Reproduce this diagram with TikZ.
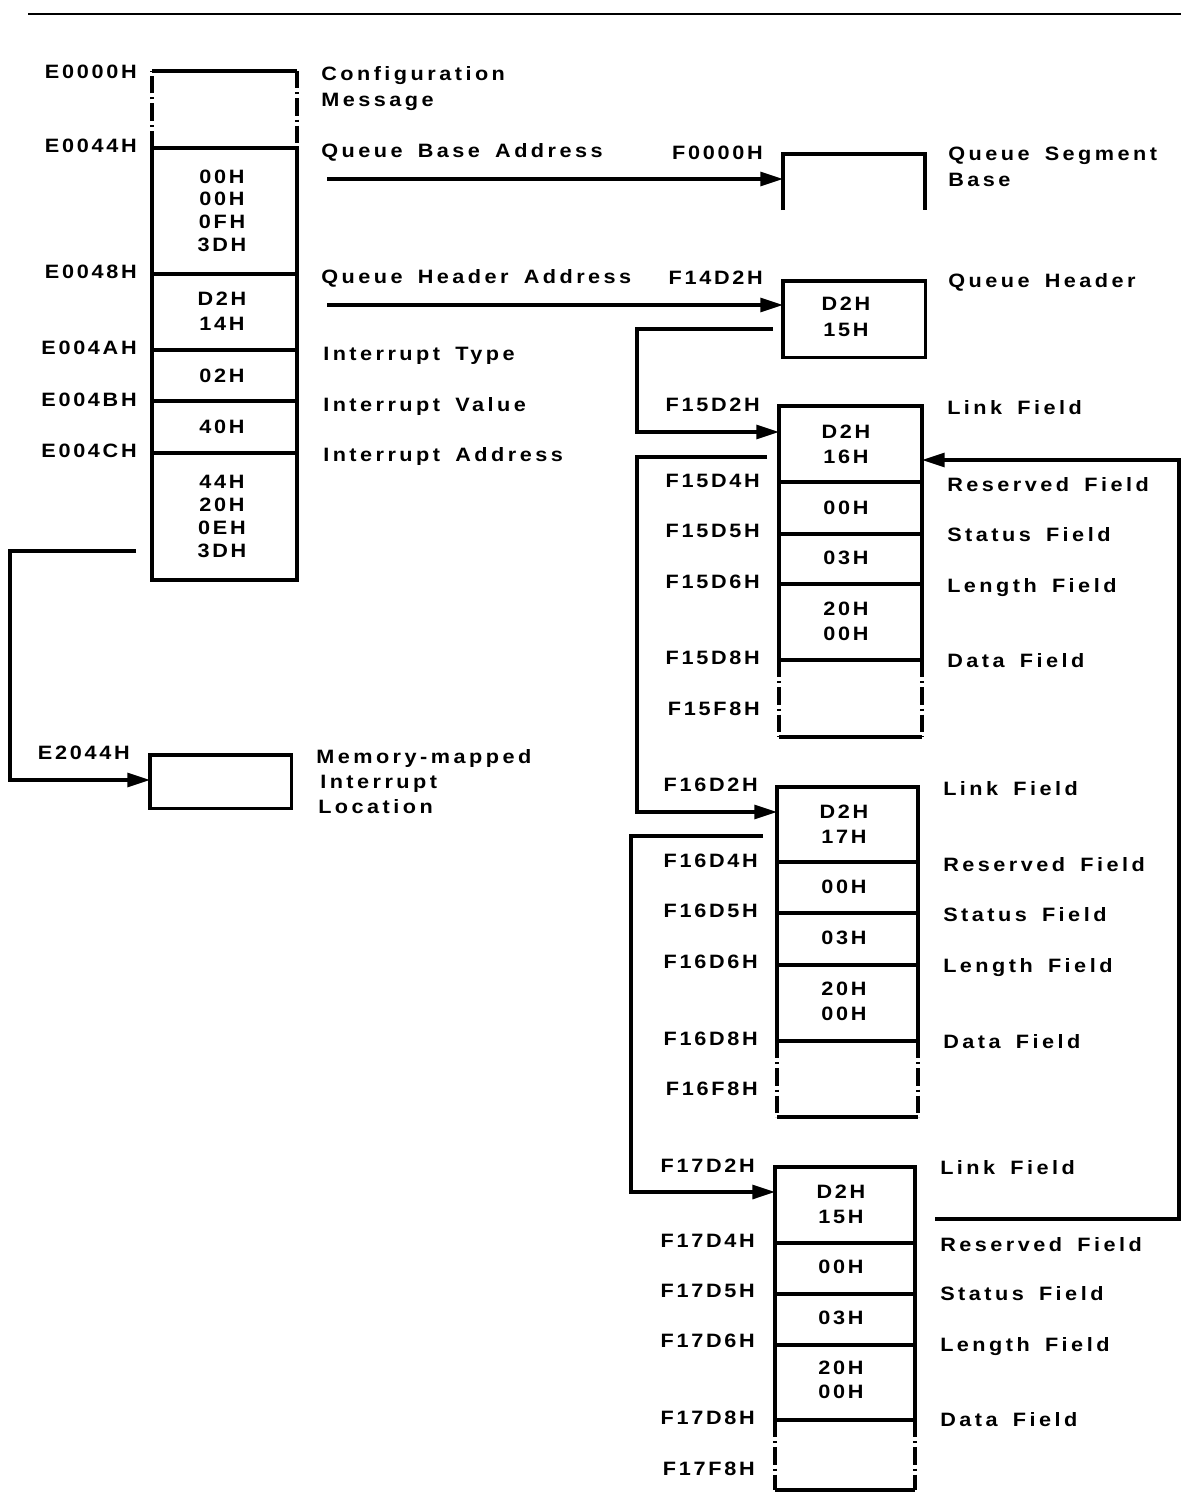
\documentclass[tikz,border=0pt]{standalone}
\usepackage{fontspec}
\setmainfont{Liberation Sans}
\newfontfamily\afont{Liberation Sans}[LetterSpace=14,FakeStretch=1.12]
\newfontfamily\bfont{Liberation Sans}[LetterSpace=18,WordSpace=1.6,FakeStretch=1.12]
\usetikzlibrary{arrows.meta}
\tikzset{
  lbl/.style={inner sep=0pt, text height=10.4pt, text depth=0pt, font=\afont\bfseries\fontsize{14.5}{17}\selectfont},
  lw/.style={lbl, anchor=west, font=\bfont\bfseries\fontsize{14.5}{17}\selectfont},
  le/.style={lbl, anchor=east},
  val/.style={lbl},
  thk/.style={line width=2.3pt},
  dsh/.style={line width=2.3pt, dash pattern=on 13pt off 3pt on 1.5pt off 3pt},
  conn/.style={line width=2.3pt, -{Triangle[length=17pt,width=10.5pt]}},
  cell/.style={inner sep=0pt, draw=none, anchor=north west}
}
\newcommand\fblk[8]{%
  \draw[thk] (#1,#7) -- (#1,#3) -- (#2,#3) -- (#2,#7);
  \foreach \yy in {#4,#5,#6,#7} \draw[thk] (#1,\yy) -- (#2,\yy);
  \draw[dsh] (#1,#7) -- (#1,#8);
  \draw[dsh] (#2,#7) -- (#2,#8);
  \draw[thk] (#1,#8) -- (#2,#8);
}
\begin{document}
\begin{tikzpicture}[x=0.75pt,y=-0.75pt]
\useasboundingbox (0,0) rectangle (1181,1492);
% top rule
\draw[line width=1.8pt] (28,14) -- (1181,14);

% ---------- left block ----------
\draw[dsh] (152,148) -- (152,71);
\draw[thk] (152,71) -- (297,71);
\draw[dsh] (297,71) -- (297,148);
\draw[thk] (152,148) rectangle (297,580);
\foreach \yy in {274,350,401,453} \draw[thk] (152,\yy) -- (297,\yy);

\foreach \t/\y [count=\i] in {00H/177,00H/199,0FH/222,3DH/245,D2H/299,14H/324,02H/376,40H/427,44H/482,20H/505,0EH/528,3DH/551}
  \node[val] (lv\i) at (222,\y) {\t};

\foreach \t/\y in {E0000H/72,E0044H/146,E0048H/272,E004AH/348,E004BH/400,E004CH/451}
  \node[le] (la-\t) at (137,\y) {\t};
\node[le] (la-E2044H) at (130,753) {E2044H};

\node[lw] (lt1) at (321,74) {Configuration};
\node[lw] (lt2) at (321,100) {Message};
\node[lw] (lt3) at (321,151) {Queue Base Address};
\node[lw] (lt4) at (321,277) {Queue Header Address};
\node[lw] (lt5) at (323,354) {Interrupt Type};
\node[lw] (lt6) at (323,405) {Interrupt Value};
\node[lw] (lt7) at (323,455) {Interrupt Address};
\node[lw] (lt8) at (316,757) {Memory-mapped};
\node[lw] (lt9) at (320,782) {Interrupt};
\node[lw] (lt10) at (318,807) {Location};

% interrupt location box
\node[cell, minimum width=105.75pt, minimum height=39.75pt] (imem) at (150,755) {};
\draw[thk] (imem.north west) rectangle (imem.south east);

% ---------- queue segment base ----------
\draw[thk] (783,210) -- (783,154) -- (925,154) -- (925,210);
\node[le] (qa1) at (763,153) {F0000H};
\node[lw] (qs1) at (948,154) {Queue Segment};
\node[lw] (qs2) at (948,180) {Base};

% ---------- queue header ----------
\node[cell, minimum width=106.5pt, minimum height=57pt] (qhdr) at (783,281) {};
\draw[thk] (qhdr.north west) rectangle (qhdr.south east);
\node[val] (qh1) at (846,304) {D2H};
\node[val] (qh2) at (846,330) {15H};
\node[le] (qa2) at (763,278) {F14D2H};
\node[lw] (qh3) at (948,281) {Queue Header};

% ---------- message blocks ----------
\fblk{779}{922}{406}{482}{534}{584}{660}{737}
\fblk{777}{918}{787}{862}{913}{965}{1041}{1117}
\fblk{775}{915}{1167}{1243}{1294}{1345}{1420}{1490}

\foreach \t/\y [count=\i] in {D2H/432,16H/457,00H/508,03H/558,20H/609,00H/634}
  \node[val] (v15-\i) at (846,\y) {\t};
\foreach \t/\y [count=\i] in {D2H/812,17H/837,00H/887,03H/938,20H/989,00H/1014}
  \node[val] (v16-\i) at (844,\y) {\t};
\foreach \t/\y [count=\i] in {D2H/1192,15H/1217,00H/1267,03H/1318,20H/1368,00H/1392}
  \node[val] (v17-\i) at (841,\y) {\t};

\foreach \t/\y in {F15D2H/405,F15D4H/481,F15D5H/531,F15D6H/582,F15D8H/658,F15F8H/709}
  \node[le] (a-\t) at (760,\y) {\t};
\foreach \t/\y in {F16D2H/785,F16D4H/861,F16D5H/911,F16D6H/962,F16D8H/1039,F16F8H/1089}
  \node[le] (a-\t) at (758,\y) {\t};
\foreach \t/\y in {F17D2H/1166,F17D4H/1241,F17D5H/1291,F17D6H/1341,F17D8H/1418,F17F8H/1469}
  \node[le] (a-\t) at (755,\y) {\t};

\foreach \t/\y [count=\i] in {Link Field/408,Reserved Field/485,Status Field/535,Length Field/586,Data Field/661}
  \node[lw] (r15-\i) at (947,\y) {\t};
\foreach \t/\y [count=\i] in {Link Field/789,Reserved Field/865,Status Field/915,Length Field/966,Data Field/1042}
  \node[lw] (r16-\i) at (943,\y) {\t};
\foreach \t/\y [count=\i] in {Link Field/1168,Reserved Field/1245,Status Field/1294,Length Field/1345,Data Field/1420}
  \node[lw] (r17-\i) at (940,\y) {\t};

% ---------- connectors ----------
\coordinate (qb-out) at (327,179);
\coordinate (qh-out) at (327,305);
\draw[conn] (qb-out) -- (783,179);
\draw[conn] (qh-out) -- (qhdr.west |- qh-out);

\coordinate (h-out) at (773,329);
\coordinate (k1) at (637,380);
\coordinate (f15-in) at (779,432);
\draw[conn] (h-out) -| (k1) |- (f15-in);

\coordinate (f15-out) at (767,457);
\coordinate (k2) at (637,640);
\coordinate (f16-in) at (777,812);
\draw[conn] (f15-out) -| (k2) |- (f16-in);

\coordinate (f16-out) at (763,836);
\coordinate (k3) at (631,1000);
\coordinate (f17-in) at (775,1192);
\draw[conn] (f16-out) -| (k3) |- (f17-in);

\coordinate (f17-out) at (935,1219);
\coordinate (k4) at (1179,800);
\coordinate (f15-back) at (922,460);
\draw[conn] (f17-out) -| (k4) |- (f15-back);

\coordinate (e-out) at (136,551);
\coordinate (k5) at (10,660);
\draw[conn] (e-out) -| (k5) |- (imem.west |- 0,780);
\end{tikzpicture}
\end{document}
